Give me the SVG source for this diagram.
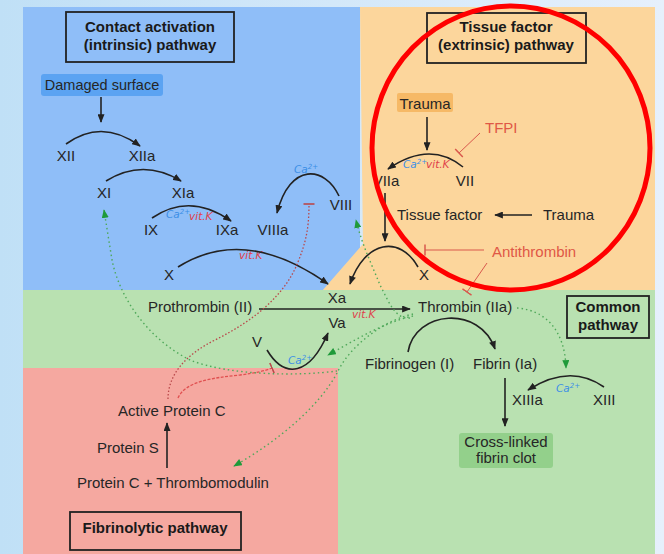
<svg xmlns="http://www.w3.org/2000/svg" width="664" height="554" viewBox="0 0 664 554">
<defs>
<linearGradient id="bg" x1="0" y1="0" x2="1" y2="0">
<stop offset="0" stop-color="#c0e0f6"/><stop offset="1" stop-color="#e6f0fc"/>
</linearGradient>
<marker id="ab" viewBox="0 0 10 8" refX="9" refY="4" markerWidth="9" markerHeight="7" markerUnits="userSpaceOnUse" orient="auto"><path d="M0,0 L10,4 L0,8 z" fill="#222"/></marker>
<marker id="ag" viewBox="0 0 10 8" refX="9" refY="4" markerWidth="9" markerHeight="7" markerUnits="userSpaceOnUse" orient="auto"><path d="M0,0 L10,4 L0,8 z" fill="#1f9a3a"/></marker>
<marker id="tr" viewBox="-1 -6 2 12" refX="0" refY="0" markerWidth="2" markerHeight="12" markerUnits="userSpaceOnUse" orient="auto"><path d="M0,-5.5 L0,5.5" stroke="#d9584c" stroke-width="1.5"/></marker>
<marker id="tr2" viewBox="-1 -6 2 12" refX="0" refY="0" markerWidth="2" markerHeight="12" markerUnits="userSpaceOnUse" orient="auto"><path d="M0,-5.5 L0,5.5" stroke="#b9484a" stroke-width="1.6"/></marker>
</defs>
<style>
text{font-family:"Liberation Sans",Arial,sans-serif;fill:#262626;font-size:15px}
.t{font-weight:bold;text-anchor:middle;fill:#1a1a1a}
.c{text-anchor:middle}
.r{fill:#df5846}
.hw{font-family:"DejaVu Sans",sans-serif;font-style:italic;font-size:10.5px}
.ca{fill:#3b8ee6}
.vk{fill:#e0404a}
.box{fill:none;stroke:#222;stroke-width:1.8}
.blk{fill:none;stroke:#222;stroke-width:1.6}
.inh{fill:none;stroke:#d9584c;stroke-width:1}
.pc{fill:none;stroke:#b9484a;stroke-width:1.3;stroke-dasharray:1.5 2}
.gd{fill:none;stroke:#4fa85a;stroke-width:1.4;stroke-dasharray:1.5 3}
</style>
<rect x="0" y="0" width="664" height="554" fill="url(#bg)"/>
<g id="regions">
<rect x="23" y="7" width="337" height="284" fill="#8fbef8"/>
<path d="M360 7 H655 V291 H322 L363 244 Z" fill="#fcd69c"/>
<rect x="23" y="290" width="632" height="264" fill="#b9e1b1"/>
<rect x="23" y="368" width="315" height="186" fill="#f5a8a0"/>
</g>
<g id="title-intrinsic"><rect class="box" x="66" y="12" width="168" height="50"/><text class="t" x="150" y="32">Contact activation</text><text class="t" x="150" y="50">(intrinsic) pathway</text></g>
<g id="title-extrinsic"><rect class="box" x="427" y="13" width="159" height="50"/><text class="t" x="506" y="32">Tissue factor</text><text class="t" x="506" y="50">(extrinsic) pathway</text></g>
<g id="title-common"><rect class="box" x="567" y="296" width="82" height="42"/><text class="t" x="608" y="312">Common</text><text class="t" x="608" y="330">pathway</text></g>
<g id="title-fibrinolytic"><rect class="box" x="70" y="512" width="171" height="38"/><text class="t" x="155" y="533">Fibrinolytic pathway</text></g>
<g id="damaged"><rect x="41" y="74" width="122" height="22" rx="3" fill="#5ba3f2"/><text class="c" x="102" y="90" style="font-size:14.5px">Damaged surface</text></g>
<g id="xii"><text class="c" x="66" y="161">XII</text></g>
<g id="xiia"><text class="c" x="142" y="161">XIIa</text></g>
<g id="xi"><text class="c" x="104" y="198">XI</text></g>
<g id="xia"><text class="c" x="183" y="198">XIa</text></g>
<g id="ix"><text class="c" x="151" y="235">IX</text></g>
<g id="ixa"><text class="c" x="227" y="235">IXa</text></g>
<g id="viiia"><text class="c" x="273" y="235">VIIIa</text></g>
<g id="viii"><text class="c" x="341" y="210">VIII</text></g>
<g id="x-int"><text class="c" x="169" y="280">X</text></g>
<g id="x-ext"><text class="c" x="424" y="280">X</text></g>
<g id="xa"><text class="c" x="337" y="303">Xa</text></g>
<g id="va"><text class="c" x="337" y="328">Va</text></g>
<g id="v"><text class="c" x="257" y="347">V</text></g>
<g id="prothrombin"><text x="148" y="312">Prothrombin (II)</text></g>
<g id="thrombin"><text x="418" y="312">Thrombin (IIa)</text></g>
<g id="fibrinogen"><text x="365" y="369">Fibrinogen (I)</text></g>
<g id="fibrin"><text x="473" y="369">Fibrin (Ia)</text></g>
<g id="xiiia"><text x="512" y="405">XIIIa</text></g>
<g id="xiii"><text x="593" y="405">XIII</text></g>
<g id="clot"><rect x="459" y="433" width="94" height="35" rx="3" fill="#93d08b"/><text class="c" x="506" y="447">Cross-linked</text><text class="c" x="506" y="463">fibrin clot</text></g>
<g id="apc"><text x="118" y="416">Active Protein C</text></g>
<g id="proteinS"><text x="97" y="453">Protein S</text></g>
<g id="pctm"><text x="77" y="488">Protein C + Thrombomodulin</text></g>
<g id="trauma1"><rect x="397" y="93" width="56" height="19" rx="2" fill="#f6b966"/><text class="c" x="425" y="109">Trauma</text></g>
<g id="tfpi"><text class="r" x="485" y="133">TFPI</text></g>
<g id="viia"><text class="c" x="386" y="186">VIIa</text></g>
<g id="vii"><text class="c" x="465" y="186">VII</text></g>
<g id="tissuefactor"><text x="397" y="220">Tissue factor</text></g>
<g id="trauma2"><text x="543" y="220">Trauma</text></g>
<g id="antithrombin"><text class="r" x="492" y="257">Antithrombin</text></g>
<g id="cofactors">
<text class="hw ca" x="403" y="168">Ca<tspan font-size="7" dy="-4">2+</tspan></text><text class="hw vk" x="426" y="168">vit.K</text>
<text class="hw ca" x="166" y="218">Ca<tspan font-size="7" dy="-4">2+</tspan></text><text class="hw vk" x="189" y="220">vit.K</text>
<text class="hw ca" x="294" y="173">Ca<tspan font-size="7" dy="-4">2+</tspan></text>
<text class="hw ca" x="288" y="364">Ca<tspan font-size="7" dy="-4">2+</tspan></text>
<text class="hw ca" x="556" y="392">Ca<tspan font-size="7" dy="-4">2+</tspan></text>
<text class="hw vk" x="239" y="259">vit.K</text>
<text class="hw vk" x="352" y="318">vit.K</text>
</g>
<g id="connectors">
<path class="blk" d="M101 97 L101 122" marker-end="url(#ab)"/>
<path class="blk" d="M66 144 Q102 118 140 146" marker-end="url(#ab)"/>
<path class="blk" d="M106 181 Q143 158 181 181" marker-end="url(#ab)"/>
<path class="blk" d="M152 218 Q190 192 231 221" marker-end="url(#ab)"/>
<path class="blk" d="M339 196 C325 166 290 162 277 213" marker-end="url(#ab)"/>
<path class="blk" d="M178 267 Q245 225 328 284" marker-end="url(#ab)"/>
<path class="blk" d="M427 117 L427 150" marker-end="url(#ab)"/>
<path class="blk" d="M463 167 Q430 140 388 169" marker-end="url(#ab)"/>
<path class="blk" d="M532 215 L495 215" marker-end="url(#ab)"/>
<path class="blk" d="M385 193 L385 241" marker-end="url(#ab)"/>
<path class="blk" d="M418 267 C400 235 365 240 350 284" marker-end="url(#ab)"/>
<path class="blk" d="M259 309 L410 309" marker-end="url(#ab)"/>
<path class="blk" d="M267 350 C285 380 310 375 328 333" marker-end="url(#ab)"/>
<path class="blk" d="M408 352 C415 310 480 305 495 349" marker-end="url(#ab)"/>
<path class="blk" d="M505 378 L505 426" marker-end="url(#ab)"/>
<path class="blk" d="M604 387 Q570 363 528 390" marker-end="url(#ab)"/>
<path class="blk" d="M167 468 L167 423" marker-end="url(#ab)"/>
<path class="inh" d="M480 133 L459 153" marker-end="url(#tr)"/>
<path class="inh" d="M484 250 L425 250" marker-end="url(#tr)"/>
<path class="inh" d="M487 263 L467 292" marker-end="url(#tr)"/>
<path class="pc" d="M168 399 C168 375 185 355 215 340 C255 320 285 295 298 262 C306 242 309 228 309 204" marker-end="url(#tr2)"/>
<path class="pc" style="stroke:#e05050;stroke-dasharray:3 1.5" d="M178 398 C185 382 210 378 240 375 C255 373 265 371 272 368" marker-end="url(#tr2)"/>
<path class="gd" d="M517 308 C545 310 565 330 566 368" marker-end="url(#ag)"/>
<path class="gd" d="M413 316 C385 322 355 340 328 355" marker-end="url(#ag)"/>
<path class="gd" d="M410 318 C395 320 388 300 380 285 C372 265 362 245 356 220" marker-end="url(#ag)"/>
<path class="gd" d="M413 314 C385 320 350 345 337 373 C320 405 280 440 234 466" marker-end="url(#ag)"/>
<path class="gd" d="M337 371 C300 376 230 376 190 360 C150 340 120 300 112 260 L104 210" marker-end="url(#ag)"/>
</g>
<ellipse id="highlight" cx="511" cy="148" rx="139" ry="142" fill="none" stroke="#ff0000" stroke-width="5"/>
</svg>
